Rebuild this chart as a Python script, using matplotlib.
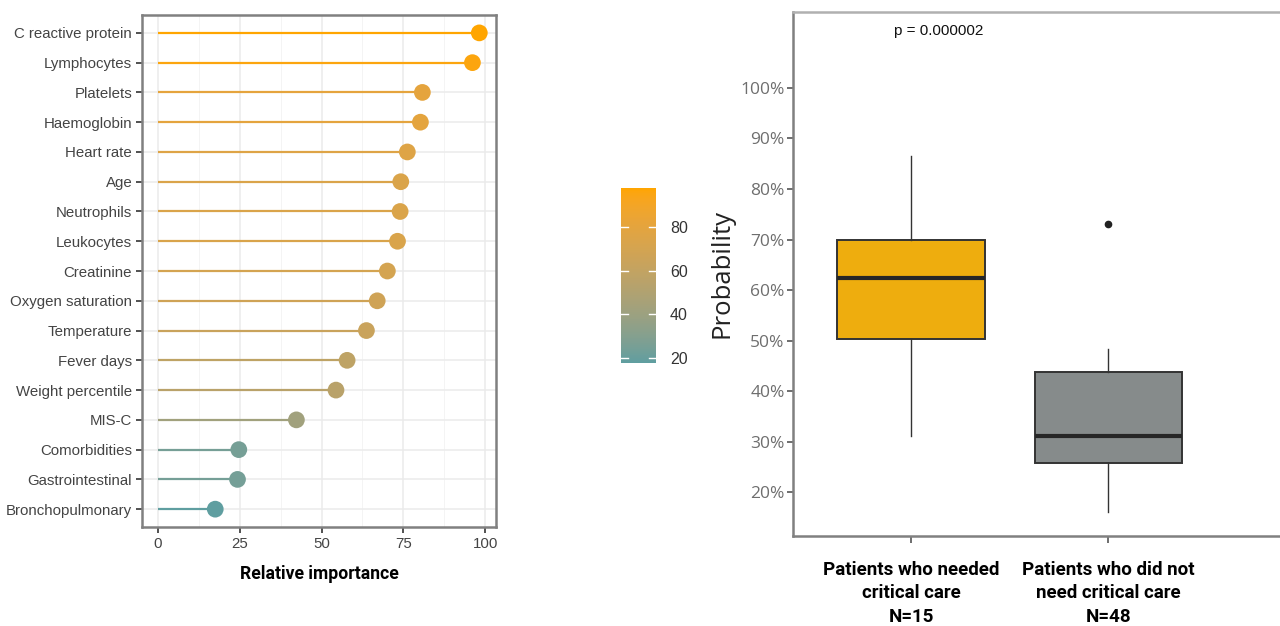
import numpy as np
import matplotlib
matplotlib.use("Agg")
import matplotlib.pyplot as plt
from matplotlib.colors import ListedColormap, Normalize, to_rgb
from matplotlib.ticker import FuncFormatter, MultipleLocator

# ---- data ----
features = ["C reactive protein", "Lymphocytes", "Platelets", "Haemoglobin",
            "Heart rate", "Age", "Neutrophils", "Leukocytes", "Creatinine",
            "Oxygen saturation", "Temperature", "Fever days", "Weight percentile",
            "MIS-C", "Comorbidities", "Gastrointestinal", "Bronchopulmonary"]
importance = [98.2, 96.1, 80.8, 80.2, 76.2, 74.2, 74.0, 73.2, 70.1,
              67.0, 63.7, 57.8, 54.4, 42.3, 24.7, 24.3, 17.5]
cbar_ticks = [20, 40, 60, 80]

groups = ["Patients who needed\ncritical care\nN=15",
          "Patients who did not\nneed critical care\nN=48"]
box_q1 = [50.4, 25.9]
box_med = [62.5, 31.2]
box_q3 = [69.9, 43.9]
whisk_lo = [31.1, 16.2]
whisk_hi = [86.6, 48.3]
outliers = [[], [73.0]]
box_colors = ["#EEAD0E", "#868B8B"]
p_text = "p = 0.000002"
prob_ticks = [20, 30, 40, 50, 60, 70, 80, 90, 100]


# gradient in Lab space, like ggplot's scale_colour_gradient
WHITE = np.array([0.95047, 1.0, 1.08883])
M = np.array([[0.4124, 0.3576, 0.1805],
              [0.2126, 0.7152, 0.0722],
              [0.0193, 0.1192, 0.9505]])

def rgb2lab(c):
    c = np.array(c)
    lin = np.where(c <= 0.04045, c / 12.92, ((c + 0.055) / 1.055) ** 2.4)
    xyz = M @ lin / WHITE
    f = np.where(xyz > (6 / 29) ** 3, np.cbrt(xyz), xyz / (3 * (6 / 29) ** 2) + 4 / 29)
    return np.array([116 * f[1] - 16, 500 * (f[0] - f[1]), 200 * (f[1] - f[2])])

def lab2rgb(lab):
    L, a, b = lab
    fy = (L + 16) / 116
    f = np.array([fy + a / 500, fy, fy - b / 200])
    xyz = np.where(f > 6 / 29, f ** 3, 3 * (6 / 29) ** 2 * (f - 4 / 29)) * WHITE
    lin = np.linalg.solve(M, xyz)
    c = np.where(lin <= 0.0031308, 12.92 * lin, 1.055 * np.clip(lin, 0, None) ** (1 / 2.4) - 0.055)
    return np.clip(c, 0, 1)

lo = rgb2lab(to_rgb("#5F9EA0"))
hi = rgb2lab(to_rgb("#FFA500"))
cmap = ListedColormap([lab2rgb(lo + (hi - lo) * t) for t in np.linspace(0, 1, 256)])
norm = Normalize(min(importance), max(importance))

fig = plt.figure(figsize=(12.8, 6.26), dpi=100)

# ---- left: lollipop ----
ax = fig.add_axes([0.1109, 0.1581, 0.2766, 0.8179])
ypos = np.arange(len(features))[::-1]
for y, v in zip(ypos, importance):
    ax.plot([0, v], [y, y], color=cmap(norm(v)), lw=1.6, zorder=2, solid_capstyle="butt")
ax.scatter(importance, ypos, c=importance, cmap=cmap, norm=norm, s=145, zorder=3, linewidths=0)

ax.set_xlim(-4.9, 103.3)
ax.set_ylim(-0.6, len(features) - 0.4)
ax.set_yticks(ypos)
ax.set_yticklabels(features)
ax.xaxis.set_major_locator(MultipleLocator(25))
ax.xaxis.set_minor_locator(MultipleLocator(12.5))
ax.grid(which="major", color="#EBEBEB", lw=1.1, zorder=0)
ax.grid(which="minor", axis="x", color="#F2F2F2", lw=0.6, zorder=0)
ax.set_axisbelow(True)
for s in ax.spines.values():
    s.set_color("#808080")
    s.set_linewidth(1.8)
ax.tick_params(axis="both", which="major", labelsize=10.8, labelcolor="#444444",
               color="#333333", length=4, width=1.2, pad=3)
ax.tick_params(axis="x", which="minor", length=0)
for lbl in ax.get_xticklabels() + ax.get_yticklabels():
    lbl.set_family(["Liberation Sans", "DejaVu Sans"])
ax.set_xlabel("Relative importance", fontsize=12.7, fontweight="bold",
              family=["Roboto", "DejaVu Sans"], labelpad=10)

# colorbar
cax = fig.add_axes([0.4852, 0.4201, 0.0273, 0.2796])
sm = plt.cm.ScalarMappable(cmap=cmap, norm=norm)
cb = fig.colorbar(sm, cax=cax, ticks=cbar_ticks)
cb.outline.set_visible(False)
cax.tick_params(length=0, labelsize=11.5, labelcolor="#333333", pad=10)
for t in cbar_ticks:
    cax.plot([0, 0.2], [t, t], color="white", lw=1, transform=cax.get_yaxis_transform())
    cax.plot([0.8, 1.0], [t, t], color="white", lw=1, transform=cax.get_yaxis_transform())
for lbl in cax.get_yticklabels():
    lbl.set_family(["Liberation Sans", "DejaVu Sans"])

# ---- right: boxplot ----
bx = fig.add_axes([0.6195, 0.1438, 0.3805, 0.8371])
stats = []
for i in range(len(groups)):
    stats.append(dict(med=box_med[i], q1=box_q1[i], q3=box_q3[i],
                      whislo=whisk_lo[i], whishi=whisk_hi[i], fliers=outliers[i]))
bp = bx.bxp(stats, positions=[1, 2], widths=0.75, patch_artist=True, showcaps=False,
            boxprops=dict(edgecolor="#333333", linewidth=1.4),
            medianprops=dict(color="#262626", linewidth=3),
            whiskerprops=dict(color="#333333", linewidth=1.0),
            flierprops=dict(marker="o", markerfacecolor="#222222", markeredgecolor="#222222",
                            markersize=4.5))
for patch, col in zip(bp["boxes"], box_colors):
    patch.set_facecolor(col)

bx.set_xlim(0.4, 2.87)
bx.set_ylim(11.4, 115)
bx.set_yticks(prob_ticks)
bx.yaxis.set_major_formatter(FuncFormatter(lambda v, p: f"{v:.0f}%"))
bx.set_xticks([1, 2])
bx.set_xticklabels(groups, fontsize=13.5, fontweight="bold",
                   family=["Roboto", "DejaVu Sans"], linespacing=1.38)
bx.spines["top"].set_color("#B0B0B0")
bx.spines["top"].set_linewidth(1.8)
bx.spines["right"].set_visible(False)
for k in ["left", "bottom"]:
    bx.spines[k].set_color("#808080")
    bx.spines[k].set_linewidth(1.8)
bx.tick_params(axis="y", labelsize=12.5, labelcolor="#6E6E6E", color="#555555",
               length=4, width=1.2, pad=2)
bx.tick_params(axis="x", color="#555555", length=5, width=1.2, pad=13)
for lbl in bx.get_yticklabels():
    lbl.set_family(["Open Sans", "DejaVu Sans"])
bx.set_ylabel("Probability", fontsize=18.5, family=["Open Sans", "DejaVu Sans"],
              color="#222222", labelpad=4)
bx.text(1.14, 111.2, p_text, ha="center", va="center", fontsize=11,
        family=["Liberation Sans", "DejaVu Sans"], color="#111111")

fig.savefig("out.png", dpi=100)
